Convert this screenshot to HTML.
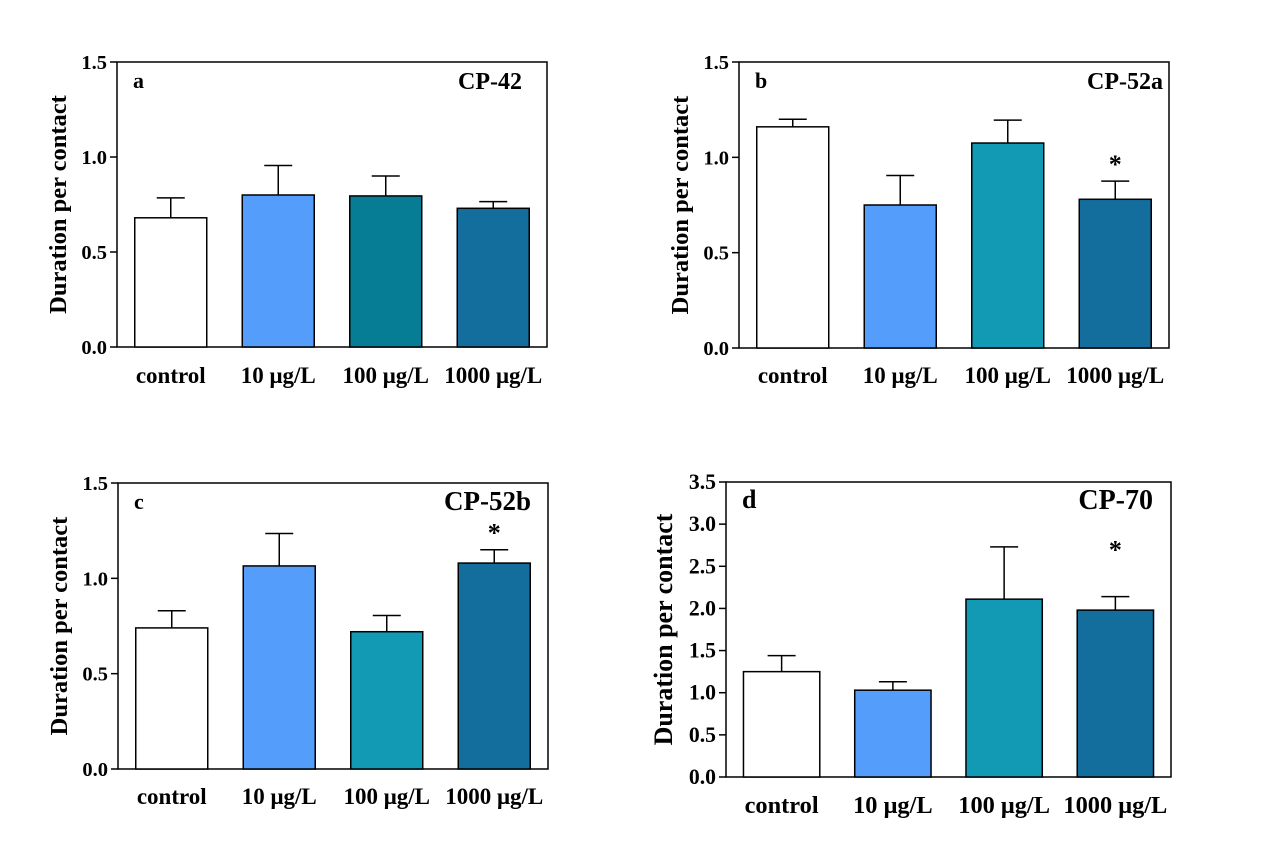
<!DOCTYPE html>
<html><head><meta charset="utf-8"><style>
body{margin:0;background:#fff}
svg text{font-family:"Liberation Serif",serif;font-weight:bold;fill:#000}
</style></head><body>
<svg id="fig" width="1269" height="857" xmlns="http://www.w3.org/2000/svg"></svg>
<script>
const categories = ["control","10 μg/L","100 μg/L","1000 μg/L"];
const valuesA = [0.68,0.80,0.795,0.73];
const errA = [0.785,0.955,0.90,0.765];
const valuesB = [1.16,0.75,1.075,0.78];
const errB = [1.20,0.905,1.195,0.875];
const valuesC = [0.74,1.065,0.72,1.08];
const errC = [0.83,1.235,0.805,1.15];
const valuesD = [1.25,1.03,2.11,1.98];
const errD = [1.44,1.13,2.73,2.14];
const ticks15 = ["0.0","0.5","1.0","1.5"];
const ticks35 = ["0.0","0.5","1.0","1.5","2.0","2.5","3.0","3.5"];
const sigA=[0,0,0,0], sigB=[0,0,0,1], sigC=[0,0,0,1], sigD=[0,0,0,1];

const NS="http://www.w3.org/2000/svg";
const svg=document.getElementById('fig');
function mk(t,a,p){const e=document.createElementNS(NS,t);for(const k in a)e.setAttribute(k,a[k]);(p||svg).appendChild(e);return e;}

const panels=[
 {id:'a',title:'CP-42',x:117,y:62,b:347,W:430,vals:valuesA,err:errA,sig:sigA,ticks:ticks15,max:1.5,cols:['#ffffff','#559dfa','#077d95','#136e9e'],xl:383,ts:24,te:25,ls:22,s:1,star:16},
 {id:'b',title:'CP-52a',x:739,y:62,b:348,W:430,vals:valuesB,err:errB,sig:sigB,ticks:ticks15,max:1.5,cols:['#ffffff','#559dfa','#129ab5','#136e9e'],xl:383,ts:24,te:6,ls:22,s:1,star:8},
 {id:'c',title:'CP-52b',x:118,y:483,b:769,W:430,vals:valuesC,err:errC,sig:sigC,ticks:ticks15,max:1.5,cols:['#ffffff','#559dfa','#129ab5','#136e9e'],xl:804,ts:27,te:17,ls:22,s:1,star:8},
 {id:'d',title:'CP-70',x:726,y:482,b:777,W:445,vals:valuesD,err:errD,sig:sigD,ticks:ticks35,max:3.5,cols:['#ffffff','#559dfa','#129ab5','#136e9e'],xl:813,ts:28,te:18,ls:26,s:1.06,star:38}
];
panels.forEach(P=>{
  const g=mk('g',{});
  
  
  const W=P.W, slot=W/4, bw=72*P.s;
  const ys=v=>P.b-(v/P.max)*(P.b-P.y);
  const frame=mk('rect',{x:P.x,y:P.y,width:W,height:P.b-P.y,fill:'none',stroke:'#000','stroke-width':1.5},g);
  
  
  P.ticks.forEach(t=>{
    const v=parseFloat(t), y=ys(v);
    mk('line',{x1:P.x-7,x2:P.x,y1:y,y2:y,stroke:'#000','stroke-width':1.5},g);
    const tx=mk('text',{x:P.x-10,y:y+7,'text-anchor':'end','font-size':20.5*P.s},g);
    tx.textContent=t;
    
    
  });
  const yc=(P.y+P.b)/2;
  const yt=mk('text',{x:0,y:0,'text-anchor':'middle','font-size':24.5*P.s,transform:`translate(${P.x-51*P.s},${yc}) rotate(-90)`},g);
  yt.textContent='Duration per contact';
  
  
  P.vals.forEach((v,i)=>{
    const cx=P.x+slot*(i+0.5);
    const ey=ys(P.err[i]), by=ys(v);
    mk('line',{x1:cx,x2:cx,y1:ey,y2:by,stroke:'#000','stroke-width':1.5},g);
    mk('line',{x1:cx-14,x2:cx+14,y1:ey,y2:ey,stroke:'#000','stroke-width':1.5},g);
    const r=mk('rect',{x:cx-bw/2,y:by,width:bw,height:P.b-by,fill:P.cols[i],stroke:'#000','stroke-width':1.5},g);
    
    
    if(P.sig[i]){
      const s=mk('text',{x:cx,y:ey-P.star,'text-anchor':'middle','font-size':26},g);
      s.textContent='*';
      
      
    }
    const xl=mk('text',{x:cx,y:P.xl,'text-anchor':'middle','font-size':23*P.s},g);
    xl.textContent=categories[i];
    
    
  });
  const pl=mk('text',{x:P.x+16,y:P.y+26,'font-size':P.ls},g);
  pl.textContent=P.id;
  
  
  const pt=mk('text',{x:P.x+W-P.te,y:P.y+27,'text-anchor':'end','font-size':P.ts},g);
  pt.textContent=P.title;
  
  
});
</script>
</body></html>
